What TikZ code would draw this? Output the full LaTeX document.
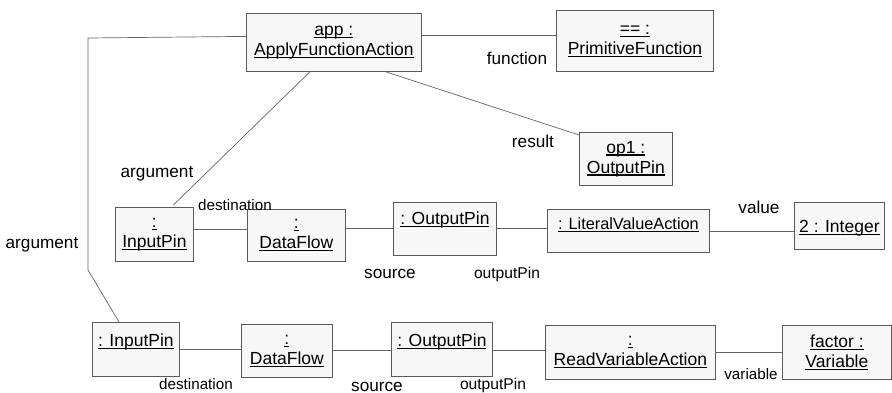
\documentclass[tikz,border=0pt]{standalone}
\usepackage{fontspec}
\setmainfont{Liberation Sans}
\definecolor{boxfill}{RGB}{247,247,247}
\definecolor{boxdraw}{RGB}{90,90,90}
\definecolor{linkcol}{RGB}{100,100,100}
\newcommand\ul[1]{\setbox0\hbox{#1}\leavevmode\rlap{\rule[-2.6pt]{\wd0}{1.3pt}}\box0}
\newcommand\fsbox{\fontsize{17.5}{20}\selectfont}
\newcommand\fssmall{\fontsize{16.3}{19}\selectfont}
\tikzset{
  obj/.style={draw=boxdraw, fill=boxfill, line width=0.8pt, anchor=north west,
    inner sep=0pt, align=center, font=\fsbox},
  lbl/.style={inner sep=0pt, text height=12pt, text depth=0pt, font=\fontsize{17.2}{20}\selectfont},
  lblsm/.style={inner sep=0pt, text height=12pt, text depth=0pt, font=\fontsize{15.2}{18}\selectfont},
  lblmd/.style={inner sep=0pt, text height=12pt, text depth=0pt, font=\fontsize{15.6}{18}\selectfont},
  link/.style={draw=linkcol, line width=0.7pt}
}
\begin{document}
\begin{tikzpicture}[x=1pt,y=-1pt]
\useasboundingbox (0,0) rectangle (892,393);
% boxes
\node[obj, minimum width=175pt, minimum height=58pt] (app) at (246,13) {\ul{app :}\\\ul{ApplyFunctionAction}};
\node[obj, minimum width=157pt, minimum height=61pt] (prim) at (556,10) {\ul{== :}\\\ul{PrimitiveFunction}};
\node[obj, minimum width=93pt, minimum height=53pt] (op1) at (579,132) {\ul{op1 :}\\\ul{OutputPin}};
\node[obj, minimum width=78pt, minimum height=54pt] (in1) at (115,207) {\ul{:}\\\ul{InputPin}};
\node[obj, minimum width=98pt, minimum height=52pt] (df1) at (247,209) {\ul{:}\\\ul{DataFlow}};
\node[obj, minimum width=103pt, text height=22pt, text depth=31pt] (out1) at (393,202) {\ul{: OutputPin}};
\node[obj, minimum width=162pt, text height=20pt, text depth=23pt, font=\fssmall] (lva) at (547,209) {\ul{: LiteralValueAction}};
\node[obj, minimum width=90pt, text height=30pt, text depth=17pt] (int) at (794,202) {\ul{2 : Integer}};
\node[obj, minimum width=87pt, text height=24pt, text depth=30pt] (in2) at (92,322) {\ul{: InputPin}};
\node[obj, minimum width=91pt, minimum height=53pt] (df2) at (241,324) {\ul{:}\\\ul{DataFlow}};
\node[obj, minimum width=101pt, text height=24pt, text depth=30pt] (out2) at (391,322) {\ul{: OutputPin}};
\node[obj, minimum width=170pt, minimum height=54pt] (rva) at (545,325) {\ul{:}\\\ul{ReadVariableAction}};
\node[obj, minimum width=109pt, minimum height=54pt] (fac) at (782,325) {\ul{factor :}\\\ul{Variable}};
% connectors
\draw[link] ([yshift=7pt]app.east) -- ([yshift=7pt]app.east -| prim.west);
\draw[link] ([xshift=-36pt]app.south east) -- ([yshift=-3pt]op1.north west);
\draw[link] ([xshift=-24pt]app.south) -- ([xshift=19pt,yshift=2pt]in1.north);
\draw[link] ([yshift=6pt]app.west) -- (88,38) -- (88,270) -- ([xshift=27pt]in2.north west);
\draw[link] ([yshift=5pt]in1.east) -- ([yshift=5pt]in1.east -| df1.west);
\draw[link] ([yshift=7pt]df1.east) -- ([yshift=7pt]df1.east -| out1.west);
\draw[link] ([yshift=0.5pt]out1.east) -- ([yshift=0.5pt]out1.east -| lva.west);
\draw[link] ([yshift=-0.5pt]lva.east) -- ([yshift=-0.5pt]lva.east -| int.west);
\draw[link] (in2.east) -- (in2.east -| df2.west);
\draw[link] ([yshift=1pt]df2.east) -- ([yshift=1pt]df2.east -| out2.west);
\draw[link] ([yshift=-1pt]out2.east) -- ([yshift=-1pt]out2.east -| rva.west);
\draw[link] (rva.east) -- (fac.west);
% labels
\node[lbl] (lfunc) at (517,59) {function};
\node[lbl] (lres) at (533,142) {result};
\node[lbl] (larg1) at (157,172) {argument};
\node[lblsm] (ldest1) at (235,205) {destination};
\node[lbl] (larg2) at (42,242) {argument};
\node[lbl] (lsrc1) at (390,272) {source};
\node[lblmd] (lout1) at (507,272) {outputPin};
\node[lbl] (lval) at (759,208) {value};
\node[lblsm] (ldest2) at (196,383) {destination};
\node[lbl] (lsrc2) at (377,385) {source};
\node[lblmd] (lout2) at (493,383) {outputPin};
\node[lblsm] (lvar) at (751,373) {variable};
\end{tikzpicture}
\end{document}
